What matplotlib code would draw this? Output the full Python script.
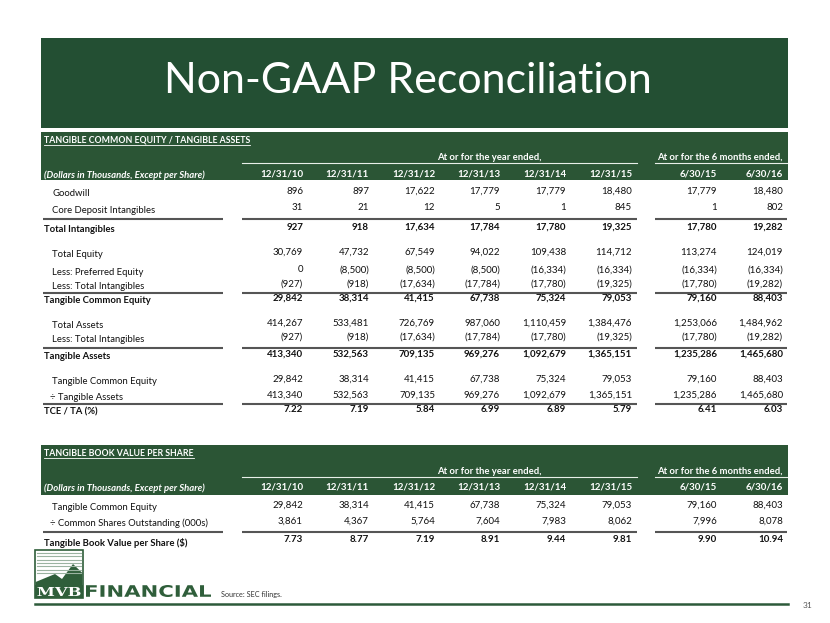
#!/usr/bin/env python3

import matplotlib
matplotlib.use("Agg")
import matplotlib.pyplot as plt
from matplotlib.patches import Rectangle, Polygon, PathPatch
from matplotlib.textpath import TextPath
from matplotlib.font_manager import FontProperties
from matplotlib.transforms import Affine2D

plt.rcParams['font.family'] = ['Lato', 'DejaVu Sans']

title = "Non-GAAP Reconciliation"
year_dates = ["12/31/10", "12/31/11", "12/31/12", "12/31/13", "12/31/14", "12/31/15"]
half_dates = ["6/30/15", "6/30/16"]
year_caption = "At or for the year ended,"
half_caption = "At or for the 6 months ended,"
units_caption = "(Dollars in Thousands, Except per Share)"

# Tangible common equity / tangible assets
goodwill = [896, 897, 17622, 17779, 17779, 18480, 17779, 18480]
core_deposit = [31, 21, 12, 5, 1, 845, 1, 802]
total_intangibles = [927, 918, 17634, 17784, 17780, 19325, 17780, 19282]
total_equity = [30769, 47732, 67549, 94022, 109438, 114712, 113274, 124019]
preferred_equity = [0, -8500, -8500, -8500, -16334, -16334, -16334, -16334]
less_intangibles = [-927, -918, -17634, -17784, -17780, -19325, -17780, -19282]
tangible_common_equity = [29842, 38314, 41415, 67738, 75324, 79053, 79160, 88403]
total_assets = [414267, 533481, 726769, 987060, 1110459, 1384476, 1253066, 1484962]
tangible_assets = [413340, 532563, 709135, 969276, 1092679, 1365151, 1235286, 1465680]
tce_ta = [7.22, 7.19, 5.84, 6.99, 6.89, 5.79, 6.41, 6.03]

# Tangible book value per share
shares_outstanding = [3861, 4367, 5764, 7604, 7983, 8062, 7996, 8078]
tbv_per_share = [7.73, 8.77, 7.19, 8.91, 9.44, 9.81, 9.90, 10.94]

# label, values, bold, decimals
table1 = [
	("Goodwill", goodwill, False, 0),
	("Core Deposit Intangibles", core_deposit, False, 0),
	("Total Intangibles", total_intangibles, True, 0),
	("Total Equity", total_equity, False, 0),
	("Less: Preferred Equity", preferred_equity, False, 0),
	("Less: Total Intangibles", less_intangibles, False, 0),
	("Tangible Common Equity", tangible_common_equity, True, 0),
	("Total Assets", total_assets, False, 0),
	("Less: Total Intangibles", less_intangibles, False, 0),
	("Tangible Assets", tangible_assets, True, 0),
	("Tangible Common Equity", tangible_common_equity, False, 0),
	("\u00f7 Tangible Assets", tangible_assets, False, 0),
	("TCE / TA (%)", tce_ta, True, 2),
]
table2 = [
	("Tangible Common Equity", tangible_common_equity, False, 0),
	("\u00f7 Common Shares Outstanding (000s)", shares_outstanding, False, 0),
	("Tangible Book Value per Share ($)", tbv_per_share, True, 2),
]

W, H = 830, 623
BANNER = "#234f33"
HEAD = "#2b5535"
LOGO = "#2f5e3a"
RULE = "#555555"

col_right = [303, 369, 435, 500, 566, 632, 717, 783]
segments = [(43, 223), (242, 637), (655, 787)]


def fmt(v, dec):
	s = f"{abs(v):,.{dec}f}"
	return f"({s})" if v < 0 else s


def rule(ax, y, color=RULE, lw=1.5):
	for x0, x1 in segments:
		ax.plot([x0, x1], [y, y], color=color, lw=lw, solid_capstyle="butt")


def fit_text(ax, s, x0, y0, x1, y1, prop, color):
	path = TextPath((0, 0), s, size=1, prop=prop)
	ext = path.get_extents()
	t = (Affine2D().translate(-ext.x0, -ext.y0)
		.scale((x1 - x0) / ext.width, -(y1 - y0) / ext.height)
		.translate(x0, y1))
	ax.add_patch(PathPatch(t.transform_path(path), fc=color, ec="none"))


def header(ax, top, bottom, section, y_sec, y_cap, y_dates):
	ax.add_patch(Rectangle((41, top), 747, bottom - top, color=HEAD, lw=0))
	t = ax.text(44, y_sec, section, color="white", fontsize=6.3, fontweight="bold",
		va="center", ha="left")
	ax.figure.canvas.draw()
	bb = t.get_window_extent().transformed(ax.transData.inverted())
	ax.plot([bb.x0, bb.x1], [y_sec + 4.5, y_sec + 4.5], color="white", lw=0.6)
	ax.text(489, y_cap, year_caption, color="white", fontsize=6.8, fontweight="bold",
		ha="center", va="center")
	ax.text(783, y_cap, half_caption, color="white", fontsize=6.8, fontweight="bold",
		ha="right", va="center")
	for x0, x1 in segments[1:]:
		ax.plot([x0, x1], [y_cap + 6, y_cap + 6], color="#e8efe9", lw=0.8)
	ax.text(44, y_dates + 1, units_caption, color="white", fontsize=6.8,
		fontweight="bold", style="italic", ha="left", va="center")
	for x, d in zip(col_right, year_dates + half_dates):
		ax.text(x, y_dates, d, color="white", fontsize=7, fontweight="bold",
			ha="right", va="center")


def body(ax, rows, ys):
	for (label, vals, bold, dec), y in zip(rows, ys):
		w = "bold" if bold else "normal"
		lx = 44 if bold else 52
		if label.startswith("\u00f7"):
			lx = 50
		ax.text(lx, y + 2.5, label, fontsize=6.8, fontweight=w, color="#111111",
			ha="left", va="center")
		for x, v in zip(col_right, vals):
			ax.text(x, y, fmt(v, dec), fontsize=7, fontweight=w, color="#111111",
				ha="right", va="center")


def main():
	fig = plt.figure(figsize=(W / 100, H / 100), dpi=100)
	ax = fig.add_axes([0, 0, 1, 1])
	ax.set_xlim(0, W)
	ax.set_ylim(H, 0)
	ax.axis("off")

	# Title banner
	ax.add_patch(Rectangle((41, 38), 747, 90, color=BANNER, lw=0))
	ax.text(408, 81, title, color="white", fontsize=31, ha="center", va="center")

	# Table 1
	header(ax, 132, 180, "TANGIBLE COMMON EQUITY / TANGIBLE ASSETS", 140, 157, 174)
	body(ax, table1, [191, 208, 227, 252, 270, 284, 298, 323, 337, 354, 379, 395, 409])
	for y in [218.5, 293, 347.5, 403.5]:
		rule(ax, y)

	# Table 2
	header(ax, 445, 495, "TANGIBLE BOOK VALUE PER SHARE", 453, 471, 487)
	body(ax, table2, [505, 521, 540])
	rule(ax, 531.5)

	# Logo
	ax.add_patch(Rectangle((35, 550), 48, 48, fc="white", ec=LOGO, lw=1.2))
	for i in range(7):
		y = 553 + i * 3.3
		ax.plot([37, 81], [y, y], color="#9bb3a1", lw=0.8)
	ax.add_patch(Polygon([(35.6, 584), (35.6, 582), (55, 574), (62, 579), (73, 564),
		(82.4, 573), (82.4, 585), (35.6, 585)], closed=True, fc=LOGO, ec="none"))
	ax.add_patch(Rectangle((35, 585), 48, 13, fc=LOGO, ec="none"))
	fit_text(ax, "MVB", 37.5, 587, 80.5, 596,
		FontProperties(family="DejaVu Serif", weight="bold"), "white")
	fit_text(ax, "FINANCIAL", 86, 585, 211, 597,
		FontProperties(family="DejaVu Sans", weight="bold"), LOGO)
	ax.text(221, 594, "Source: SEC filings.", fontsize=5.2, color="#333333",
		ha="left", va="center")

	# Footer
	ax.plot([35, 788], [604, 604], color="#2d5a3a", lw=1.8)
	ax.text(808, 605, "31", fontsize=6, color="#555555", ha="center", va="center")

	fig.savefig("out.png", dpi=100)


if __name__ == "__main__":
	main()
